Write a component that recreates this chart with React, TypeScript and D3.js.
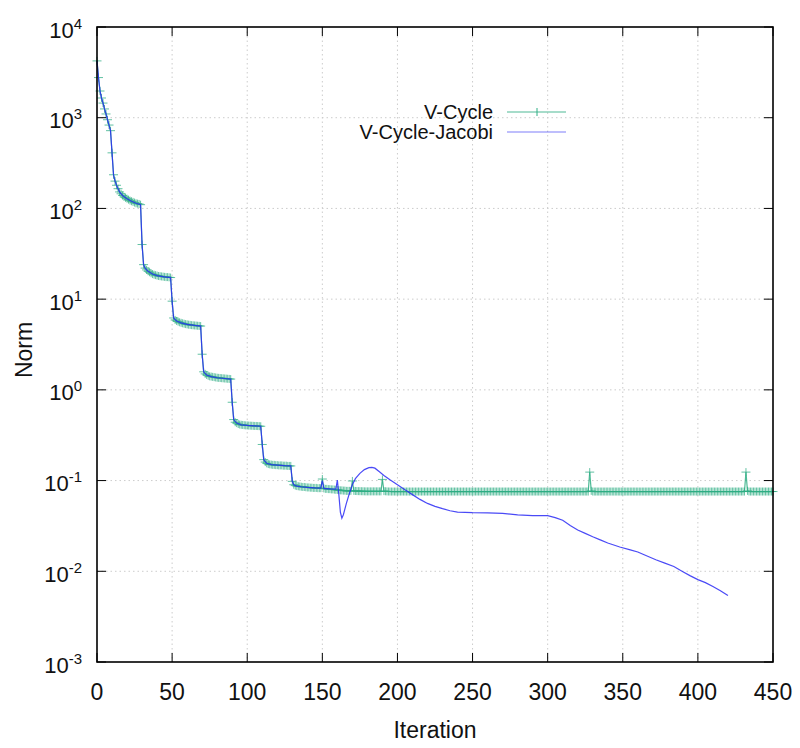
import React from 'react'
import * as d3 from 'd3'

// V-Cycle norm, one value per iteration 0..450
const vCycle: number[] = [
  4230, 2770, 1970, 1650, 1450, 1250, 1100, 950, 830, 720,
  410, 235, 200, 180, 165, 152, 145, 139, 134, 131,
  128, 125, 122, 120, 118, 116, 114, 113, 112, 110,
  40, 24, 22, 21, 20.3, 19.8, 19.3, 18.9, 18.6, 18.4,
  18.2, 18.0, 17.9, 17.8, 17.7, 17.6, 17.5, 17.5, 17.4, 17.3,
  9.5, 6.2, 5.9, 5.75, 5.65, 5.56, 5.48, 5.42, 5.36, 5.31,
  5.27, 5.23, 5.2, 5.17, 5.15, 5.13, 5.11, 5.09, 5.07, 5.05,
  2.47, 1.58, 1.5, 1.46, 1.43, 1.41, 1.4, 1.39, 1.38, 1.37,
  1.36, 1.355, 1.35, 1.345, 1.34, 1.335, 1.33, 1.325, 1.32, 1.315,
  0.73, 0.47, 0.44, 0.43, 0.42, 0.415, 0.412, 0.41, 0.408, 0.406,
  0.405, 0.404, 0.403, 0.402, 0.401, 0.4, 0.4, 0.399, 0.398, 0.397,
  0.25, 0.17, 0.16, 0.155, 0.152, 0.151, 0.15, 0.149, 0.149, 0.148,
  0.148, 0.147, 0.147, 0.147, 0.146, 0.146, 0.146, 0.145, 0.145, 0.145,
  0.098, 0.09, 0.088, 0.087, 0.0865, 0.086, 0.0855, 0.085, 0.085, 0.0845,
  0.084, 0.084, 0.0835, 0.0835, 0.083, 0.083, 0.083, 0.0825, 0.0825, 0.0825,
  0.104, 0.082, 0.081, 0.081, 0.0805, 0.0805, 0.08, 0.08, 0.0795, 0.079,
  0.079, 0.0785, 0.078, 0.078, 0.0775, 0.0775, 0.077, 0.077, 0.077, 0.077,
  0.099, 0.077, 0.0768, 0.0766, 0.0765, 0.0764, 0.0763, 0.0762, 0.0761, 0.076,
  0.076, 0.076, 0.076, 0.076, 0.076, 0.076, 0.076, 0.076, 0.076, 0.076,
  0.103, 0.0765, 0.0762, 0.076, 0.0758, 0.0758, 0.0757, 0.0757, 0.0757, 0.0757,
  0.0757, 0.0757, 0.0757, 0.0757, 0.0757, 0.0757, 0.0757, 0.0757, 0.0757, 0.0757,
  0.0757, 0.0757, 0.0757, 0.0757, 0.0757, 0.0757, 0.0757, 0.0757, 0.0757, 0.0757,
  0.0757, 0.0757, 0.0757, 0.0757, 0.0757, 0.0757, 0.0757, 0.0757, 0.0757, 0.0757,
  0.0757, 0.0757, 0.0757, 0.0757, 0.0757, 0.0757, 0.0757, 0.0757, 0.0757, 0.0757,
  0.0757, 0.0757, 0.0757, 0.0757, 0.0757, 0.0757, 0.0757, 0.0757, 0.0757, 0.0757,
  0.0757, 0.0757, 0.0757, 0.0757, 0.0757, 0.0757, 0.0757, 0.0757, 0.0757, 0.0757,
  0.0757, 0.0757, 0.0757, 0.0757, 0.0757, 0.0757, 0.0757, 0.0757, 0.0757, 0.0757,
  0.0757, 0.0757, 0.0757, 0.0757, 0.0757, 0.0757, 0.0757, 0.0757, 0.0757, 0.0757,
  0.0757, 0.0757, 0.0757, 0.0757, 0.0757, 0.0757, 0.0757, 0.0757, 0.0757, 0.0757,
  0.0757, 0.0757, 0.0757, 0.0757, 0.0757, 0.0757, 0.0757, 0.0757, 0.0757, 0.0757,
  0.0757, 0.0757, 0.0757, 0.0757, 0.0757, 0.0757, 0.0757, 0.0757, 0.0757, 0.0757,
  0.0757, 0.0757, 0.0757, 0.0757, 0.0757, 0.0757, 0.0757, 0.0757, 0.0757, 0.0757,
  0.0757, 0.0757, 0.0757, 0.0757, 0.0757, 0.0757, 0.0757, 0.0757, 0.124, 0.077,
  0.0758, 0.0757, 0.0757, 0.0757, 0.0757, 0.0757, 0.0757, 0.0757, 0.0757, 0.0757,
  0.0757, 0.0757, 0.0757, 0.0757, 0.0757, 0.0757, 0.0757, 0.0757, 0.0757, 0.0757,
  0.0757, 0.0757, 0.0757, 0.0757, 0.0757, 0.0757, 0.0757, 0.0757, 0.0757, 0.0757,
  0.0757, 0.0757, 0.0757, 0.0757, 0.0757, 0.0757, 0.0757, 0.0757, 0.0757, 0.0757,
  0.0757, 0.0757, 0.0757, 0.0757, 0.0757, 0.0757, 0.0757, 0.0757, 0.0757, 0.0757,
  0.0757, 0.0757, 0.0757, 0.0757, 0.0757, 0.0757, 0.0757, 0.0757, 0.0757, 0.0757,
  0.0757, 0.0757, 0.0757, 0.0757, 0.0757, 0.0757, 0.0757, 0.0757, 0.0757, 0.0757,
  0.0757, 0.0757, 0.0757, 0.0757, 0.0757, 0.0757, 0.0757, 0.0757, 0.0757, 0.0757,
  0.0757, 0.0757, 0.0757, 0.0757, 0.0757, 0.0757, 0.0757, 0.0757, 0.0757, 0.0757,
  0.0757, 0.0757, 0.0757, 0.0757, 0.0757, 0.0757, 0.0757, 0.0757, 0.0757, 0.0757,
  0.0757, 0.0757, 0.124, 0.077, 0.0758, 0.0757, 0.0757, 0.0757, 0.0757, 0.0757,
  0.0757, 0.0757, 0.0757, 0.0757, 0.0757, 0.0757, 0.0757, 0.0757, 0.0757, 0.0757,
  0.0757,
]

// V-Cycle-Jacobi, drawn as a plain line
const jacobiIter: number[] = [
  0, 1, 2, 3, 4, 5, 6, 7, 8, 9, 10, 11, 12, 13, 15, 17, 20, 23, 26, 29,
  30, 31, 32, 34, 37, 40, 45, 49, 50, 51, 53, 56, 60, 65, 69,
  70, 71, 73, 76, 80, 85, 89, 90, 91, 93, 96, 100, 105, 109,
  110, 111, 113, 116, 120, 125, 129, 130, 131, 133, 136, 140, 145, 149,
  150, 151, 155, 159, 160, 161, 162, 163, 164, 166, 168, 170, 172, 175, 178, 181, 183, 185, 188, 191, 195,
  200, 205, 210, 215, 220, 225, 230, 235, 240, 250, 260, 270, 280, 290, 300,
  305, 310, 315, 320, 325, 330, 335, 340, 348, 355, 360, 365, 372, 378, 384, 390, 395, 400, 405, 410, 415, 420,
]
const jacobiNorm: number[] = [
  4230, 2770, 1970, 1650, 1450, 1250, 1100, 950, 830, 720, 410, 235, 200, 180, 152, 139, 128, 120, 114, 110,
  40, 24, 22, 20.3, 18.9, 18.2, 17.6, 17.3, 9.5, 6.2, 5.75, 5.48, 5.27, 5.13, 5.05,
  2.47, 1.58, 1.46, 1.4, 1.36, 1.335, 1.315, 0.73, 0.47, 0.43, 0.412, 0.405, 0.4, 0.397,
  0.25, 0.17, 0.155, 0.15, 0.148, 0.146, 0.145, 0.098, 0.09, 0.087, 0.0855, 0.084, 0.083, 0.0825,
  0.1, 0.082, 0.081, 0.0805, 0.101, 0.07, 0.045, 0.0385, 0.042, 0.056, 0.072, 0.09, 0.105, 0.12, 0.132, 0.139, 0.14, 0.137, 0.125, 0.114, 0.102,
  0.09, 0.079, 0.07, 0.062, 0.056, 0.052, 0.049, 0.0465, 0.045, 0.0443, 0.044, 0.0435, 0.0418, 0.041, 0.041,
  0.039, 0.0365, 0.032, 0.0285, 0.0262, 0.024, 0.0222, 0.0205, 0.0185, 0.0172, 0.0163, 0.015, 0.0134, 0.0123, 0.0113, 0.0099, 0.0089, 0.0081, 0.0075, 0.0068, 0.0061, 0.0054,
]

const xTicks = [0, 50, 100, 150, 200, 250, 300, 350, 400, 450]
const yExps = [4, 3, 2, 1, 0, -1, -2, -3]

const green = '#2fae84'
const blue = '#2a2af5'
const font = '"Liberation Sans", Arial, sans-serif'

export default function App() {
  const left = 97, right = 773, top = 27, bottom = 662
  const x = d3.scaleLinear().domain([0, 450]).range([left, right])
  const y = d3.scaleLog().domain([1e-3, 1e4]).range([bottom, top])

  const vLine = d3.line<number>().x((_, i) => x(i)).y(d => y(d))(vCycle) || ''
  const jLine = d3.line<number>().x(d => x(d)).y((_, i) => y(jacobiNorm[i]))(jacobiIter) || ''
  const plus = vCycle.map((d, i) => {
    const px = x(i), py = y(d)
    return `M${px - 4.5},${py}h9M${px},${py - 4}v8`
  }).join('')

  const tick = 9
  return (
    <svg width={800} height={748} style={{position: 'absolute', left: 0, top: 0, background: '#fff'}}
      fontFamily={font}>
      {/* grid */}
      <g stroke="#cccccc" strokeWidth={1} strokeDasharray="1.5,3">
        {xTicks.slice(1, -1).map(t => <line key={'gx' + t} x1={x(t)} x2={x(t)} y1={top} y2={bottom} />)}
        {yExps.slice(1, -1).map(e => <line key={'gy' + e} x1={left} x2={right} y1={y(Math.pow(10, e))} y2={y(Math.pow(10, e))} />)}
      </g>

      {/* data */}
      <path d={vLine} fill="none" stroke={green} strokeWidth={1.2} strokeOpacity={0.85} />
      <path d={plus} fill="none" stroke={green} strokeWidth={1} strokeOpacity={0.75} />
      <path d={jLine} fill="none" stroke={blue} strokeWidth={1.2} strokeOpacity={0.85} />

      {/* ticks */}
      <g stroke="#000" strokeWidth={1}>
        {xTicks.map(t => (
          <g key={'tx' + t}>
            <line x1={x(t)} x2={x(t)} y1={bottom} y2={bottom - tick} />
            <line x1={x(t)} x2={x(t)} y1={top} y2={top + tick} />
          </g>
        ))}
        {yExps.map(e => (
          <g key={'ty' + e}>
            <line x1={left} x2={left + tick} y1={y(Math.pow(10, e))} y2={y(Math.pow(10, e))} />
            <line x1={right} x2={right - tick} y1={y(Math.pow(10, e))} y2={y(Math.pow(10, e))} />
          </g>
        ))}
      </g>
      <rect x={left} y={top} width={right - left} height={bottom - top} fill="none" stroke="#000" strokeWidth={1.6} />

      {/* tick labels */}
      {xTicks.map(t => (
        <text key={'lx' + t} x={x(t)} y={700} textAnchor="middle" fontSize={23} fill="#111">{t}</text>
      ))}
      {yExps.map(e => (
        <text key={'ly' + e} x={82} y={y(Math.pow(10, e)) + 10.5} textAnchor="end" fontSize={22} fill="#111">
          10<tspan dy={-9} fontSize={15}>{e}</tspan>
        </text>
      ))}

      {/* axis titles */}
      <text x={(left + right) / 2} y={738} textAnchor="middle" fontSize={23} fill="#111">Iteration</text>
      <text transform={`translate(32,350) rotate(-90)`} textAnchor="middle" fontSize={23} fill="#111">Norm</text>

      {/* legend */}
      <g fontSize={20} fill="#111">
        <text x={493} y={119} textAnchor="end">V-Cycle</text>
        <text x={493} y={139} textAnchor="end">V-Cycle-Jacobi</text>
      </g>
      <line x1={507} x2={566} y1={112} y2={112} stroke={green} strokeWidth={1.2} strokeOpacity={0.85} />
      <path d="M537,108v8" stroke={green} strokeWidth={1} />
      <line x1={507} x2={566} y1={132} y2={132} stroke={blue} strokeWidth={1.2} strokeOpacity={0.6} />
    </svg>
  )
}
